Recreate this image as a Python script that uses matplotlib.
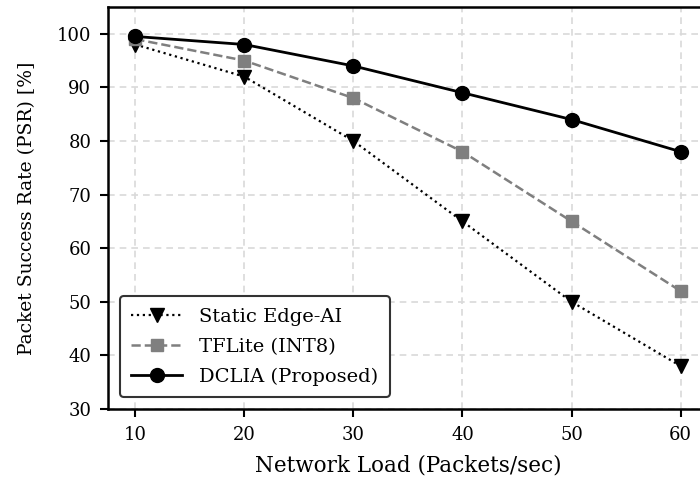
import matplotlib
matplotlib.use("Agg")
import matplotlib.pyplot as plt

loads = [10, 20, 30, 40, 50, 60]
static_edge = [98, 92, 80, 65, 50, 38]
tflite = [99, 95, 88, 78, 65, 52]
dclia = [99.5, 98, 94, 89, 84, 78]

plt.rcParams['font.family'] = ['DejaVu Serif']
fig = plt.figure(figsize=(7, 4.82), dpi=100)
ax = fig.add_axes([0.1543, 0.1515, 0.857, 0.834])

ax.plot(loads, static_edge, linestyle=':', color='black', marker='v', markersize=10, linewidth=1.6, label='Static Edge-AI')
ax.plot(loads, tflite, linestyle='--', color='#7f7f7f', marker='s', markersize=9, linewidth=1.8, label='TFLite (INT8)')
ax.plot(loads, dclia, linestyle='-', color='black', marker='o', markersize=10, linewidth=2, label='DCLIA (Proposed)')

ax.set_xlim(7.5, 62.5)
ax.set_ylim(30, 105)
ax.set_xticks(loads)
ax.set_yticks([30, 40, 50, 60, 70, 80, 90, 100])
ax.tick_params(labelsize=13, width=1.5, length=6, pad=6)
ax.grid(True, linestyle=(0, (4, 3)), color='#d9d9d9', linewidth=1.2)
for s in ax.spines.values():
    s.set_linewidth(1.8)
ax.set_xlabel('Network Load (Packets/sec)', fontsize=15.5, labelpad=8)
ax.set_ylabel('Packet Success Rate (PSR) [%]', fontsize=13.5, labelpad=15)
leg = ax.legend(loc='lower left', fontsize=14, frameon=True, fancybox=True, framealpha=1,
                handlelength=2.6, handletextpad=0.9, borderaxespad=0.6,
                borderpad=0.6, labelspacing=0.6)
leg.get_frame().set_edgecolor('#333333')
leg.get_frame().set_linewidth(1.5)

fig.savefig('out.png', dpi=100)
